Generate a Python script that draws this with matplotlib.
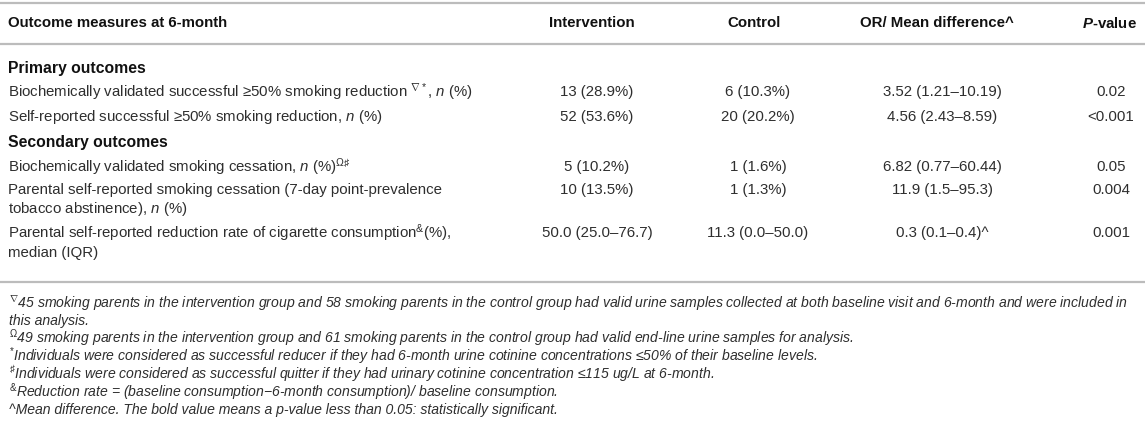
import matplotlib
matplotlib.use("Agg")
import matplotlib.pyplot as plt

plt.rcParams['font.family'] = ['Liberation Sans', 'DejaVu Sans']
plt.rcParams['mathtext.fontset'] = 'custom'
plt.rcParams['mathtext.rm'] = 'Liberation Sans'
plt.rcParams['mathtext.it'] = 'Liberation Sans:italic'
plt.rcParams['mathtext.bf'] = 'Liberation Sans:bold'
plt.rcParams['mathtext.bfit'] = 'Liberation Sans:italic:bold'

# table content
headers = ['Outcome measures at 6-month', 'Intervention', 'Control',
           'OR/ Mean difference^', r'$\mathbfit{P}$-value']
sections = ['Primary outcomes', 'Secondary outcomes']
row_labels = [
    r'Biochemically validated successful ≥50% smoking reduction $^{\nabla*}$, $n$ (%)',
    r'Self-reported successful ≥50% smoking reduction, $n$ (%)',
    r'Biochemically validated smoking cessation, $n$ (%)$^{\mathit{\Omega}\sharp}$',
    'Parental self-reported smoking cessation (7-day point-prevalence\n'
    r'tobacco abstinence), $n$ (%)',
    r'Parental self-reported reduction rate of cigarette consumption$^{&}$(%),' '\nmedian (IQR)',
]
intervention = ['13 (28.9%)', '52 (53.6%)', '5 (10.2%)', '10 (13.5%)', '50.0 (25.0–76.7)']
control = ['6 (10.3%)', '20 (20.2%)', '1 (1.6%)', '1 (1.3%)', '11.3 (0.0–50.0)']
or_md = ['3.52 (1.21–10.19)', '4.56 (2.43–8.59)', '6.82 (0.77–60.44)',
         '11.9 (1.5–95.3)', '0.3 (0.1–0.4)^']
p_values = ['0.02', '<0.001', '0.05', '0.004', '0.001']
footnotes = [
    r'$^{\nabla}$45 smoking parents in the intervention group and 58 smoking parents in the control group '
    'had valid urine samples collected at both baseline visit and 6-month and were included in\nthis analysis.',
    r'$^{\mathit{\Omega}}$49 smoking parents in the intervention group and 61 smoking parents in the control group '
    'had valid end-line urine samples for analysis.',
    r'$^{*}$Individuals were considered as successful reducer if they had 6-month urine cotinine concentrations '
    '≤50% of their baseline levels.',
    r'$^{\sharp}$Individuals were considered as successful quitter if they had urinary cotinine concentration '
    '≤115 ug/L at 6-month.',
    r'$^{&}$Reduction rate = (baseline consumption−6-month consumption)/ baseline consumption.',
    '^Mean difference. The bold value means a p-value less than 0.05: statistically significant.',
]

W, H = 1145, 434
fig = plt.figure(figsize=(W / 100, H / 100), dpi=100)
ax = fig.add_axes([0, 0, 1, 1])
ax.set_xlim(0, W)
ax.set_ylim(H, 0)
ax.axis('off')

txt_col = '#2e2e2e'
line_col = '#bcbcbc'
fs = 10.8
fs_note = 10.1

head_x = [8, 592, 754, 937, 1109]
data_x = [8, 597, 758, 942, 1111]
header_y = 23
section_y = [68, 142]
row_y = [92, 117, 167, 190, 233]
line2_dy = 19.5

for y in [3, 44, 282]:
    ax.plot([0, W], [y, y], color=line_col, lw=1.6, solid_capstyle='butt')

for i, h in enumerate(headers):
    ax.text(head_x[i], header_y, h, ha='left' if i == 0 else 'center', va='center',
            fontsize=fs, fontweight='bold', color='#111111')

for s, y in zip(sections, section_y):
    ax.text(head_x[0], y, s, ha='left', va='center', fontsize=fs + 0.5,
            fontweight='bold', color='#111111')

for i, y in enumerate(row_y):
    lines = row_labels[i].split('\n')
    for k, ln in enumerate(lines):
        ax.text(data_x[0], y + k * line2_dy, ln, ha='left', va='center',
                fontsize=fs, color=txt_col)
    for j, vals in enumerate([intervention, control, or_md, p_values]):
        ax.text(data_x[j + 1], y, vals[i], ha='center', va='center',
                fontsize=fs, color=txt_col)

# footnotes, italic, tight line spacing
foot_y = 303
for note in footnotes:
    for ln in note.split('\n'):
        ax.text(9, foot_y, ln, ha='left', va='center', fontsize=fs_note,
                style='italic', color=txt_col)
        foot_y += 17.8

fig.savefig('out.png', dpi=100, facecolor='white')
